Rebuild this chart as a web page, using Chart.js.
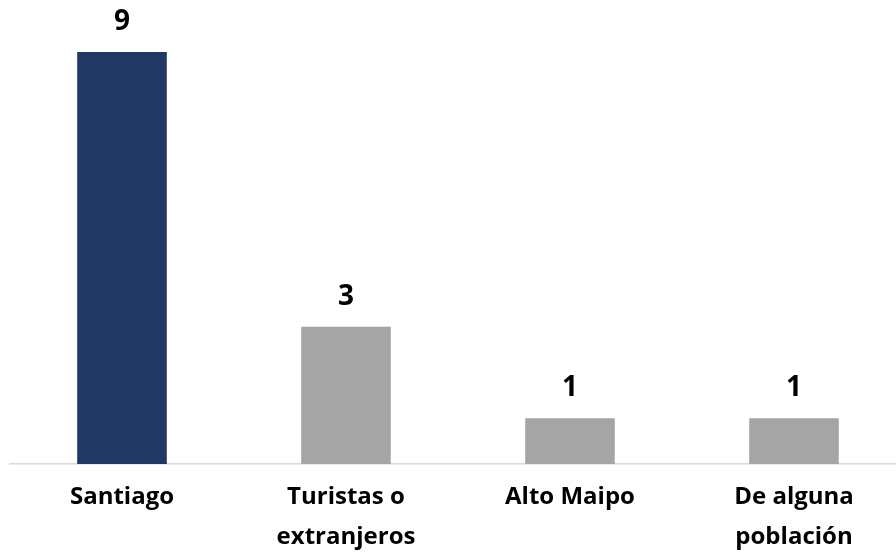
<!DOCTYPE html>
<html>
<head>
<meta charset="utf-8">
<script src="https://cdn.jsdelivr.net/npm/chart.js@4/dist/chart.umd.min.js"></script>
<style>
  html, body { margin: 0; padding: 0; background: #fff; overflow: hidden; }
  #wrap { width: 906px; height: 558px; }
</style>
</head>
<body>
<div id="wrap"><canvas id="lugarChart"></canvas></div>
<script>
var categories = [['Santiago'], ['Turistas o', 'extranjeros'], ['Alto Maipo'], ['De alguna', 'población']];
var values = [9, 3, 1, 1];
var barColors = ['#203864', '#a5a5a5', '#a5a5a5', '#a5a5a5'];

var fontFamily = '"Open Sans", sans-serif';

// numbers above the bars
var valueLabels = {
    id: 'valueLabels',
    afterDatasetsDraw: function(chart) {
        var ctx = chart.ctx;
        var meta = chart.getDatasetMeta(0);
        ctx.save();
        ctx.font = 'bold 28px ' + fontFamily;
        ctx.fillStyle = '#000';
        ctx.textAlign = 'center';
        ctx.textBaseline = 'middle';
        meta.data.forEach(function(bar, i) {
            ctx.fillText(values[i], bar.x, bar.y - 30);
        });
        ctx.restore();
    }
};

var ctx = document.getElementById('lugarChart');
var chart = new Chart(ctx, {
    type: 'bar',
    data: {
        labels: categories,
        datasets: [{
            data: values,
            backgroundColor: barColors,
            barPercentage: 0.4,
            categoryPercentage: 1
        }]
    },
    options: {
        responsive: true,
        maintainAspectRatio: false,
        animation: false,
        layout: { padding: { top: 52, left: 10, right: 0, bottom: 0 } },
        plugins: {
            legend: { display: false },
            tooltip: { enabled: false }
        },
        scales: {
            x: {
                grid: { display: false, drawTicks: false },
                border: { display: true, color: '#d9d9d9', width: 1.5 },
                ticks: {
                    color: '#000',
                    padding: 13,
                    maxRotation: 0,
                    autoSkip: false,
                    font: { family: fontFamily, size: 24, weight: 'bold', lineHeight: 1.67 }
                },
                afterFit: function(axis) { axis.height = 94; }
            },
            y: {
                display: false,
                min: 0,
                max: 9
            }
        }
    },
    plugins: [valueLabels]
});
</script>
</body>
</html>
